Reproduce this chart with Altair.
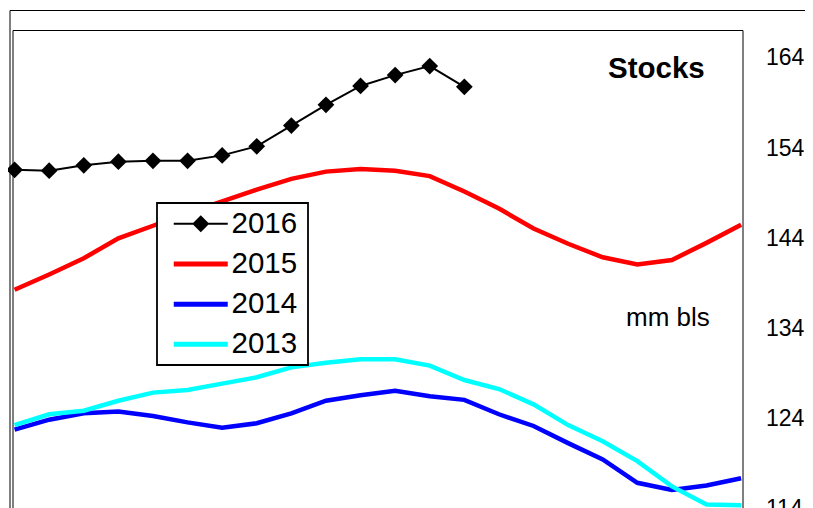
import altair as alt
import pandas as pd

# ---- data ----
years = ["2016", "2015", "2014", "2013"]
colors = ["#000000", "#FF0000", "#0000FF", "#00FFFF"]
y_ticks = [114, 124, 134, 144, 154, 164]

s2016 = [151.6, 151.5, 152.1, 152.5, 152.6, 152.6, 153.2, 154.2, 156.5, 158.8,
         160.9, 162.1, 163.1, 160.8]
s2015 = [138.3, 140.0, 141.8, 144.0, 145.4, 146.8, 148.1, 149.4, 150.6, 151.4,
         151.7, 151.5, 150.9, 149.2, 147.3, 145.1, 143.4, 141.9, 141.1, 141.6,
         143.5, 145.5]
s2014 = [122.8, 123.9, 124.6, 124.8, 124.3, 123.6, 123.0, 123.5, 124.6, 126.0,
         126.6, 127.1, 126.5, 126.1, 124.5, 123.2, 121.3, 119.5, 116.9, 116.1,
         116.6, 117.4]
s2013 = [123.3, 124.5, 124.9, 126.0, 126.9, 127.2, 127.9, 128.6, 129.7, 130.2,
         130.6, 130.6, 129.9, 128.3, 127.3, 125.6, 123.3, 121.5, 119.3, 116.5,
         114.5, 114.4]

series = {"2016": s2016, "2015": s2015, "2014": s2014, "2013": s2013}
rows = []
for yr, vals in series.items():
    for i, v in enumerate(vals):
        rows.append({"year": yr, "week": i, "value": v})
df = pd.DataFrame(rows)

FONT = "Liberation Sans"
W, H = 730, 488

x_enc = alt.X("week:Q", scale=alt.Scale(domain=[-0.06, 21.04], nice=False, zero=False), axis=None)
y_enc = alt.Y("value:Q",
              scale=alt.Scale(domain=[113, 167.1], nice=False, zero=False),
              axis=alt.Axis(orient="right", values=y_ticks, domain=False, ticks=False,
                            grid=False, labelPadding=23, labelFontSize=23, labelFont=FONT,
                            labelColor="black", title=None, labelOverlap=False,
                            labelBound=False, labelFlush=False))

color_scale = alt.Scale(domain=years, range=colors)

# legend symbols (filled paths): thin line + diamond for 2016, thick line for the rest
p2016 = "M-0.8,-0.2H10V0.2H-0.8ZM4.6,-1.7L6.3,0L4.6,1.7L2.9,0ZM24.8,0"
pline = "M-0.8,-0.5H10V0.5H-0.8ZM24.8,0"

legend = alt.Legend(
    orient="none", legendX=144.5, legendY=173, title=None,
    fillColor="white", strokeColor="black", padding=6,
    labelFont=FONT, labelFontSize=29.5, labelColor="black",
    symbolSize=100, labelOffset=39, rowPadding=9.2,
    symbolStrokeWidth=0, symbolOpacity=1,
)

color_enc = alt.Color("year:N", scale=color_scale, legend=legend)
base = alt.Chart(df).encode(x=x_enc, y=y_enc, color=color_enc)

def line_for(yr, sw):
    return base.transform_filter(alt.datum.year == yr).mark_line(strokeWidth=sw, clip=True)

pts2016 = base.transform_filter(alt.datum.year == "2016").mark_point(
    shape="diamond", size=280, filled=True, opacity=1, strokeWidth=0)

# legend-only layer (no rows pass the filter; the legend comes from the scale domains)
legend_layer = base.transform_filter(alt.datum.week < -100).mark_point(
    filled=True, size=100).encode(
    shape=alt.Shape("year:N", scale=alt.Scale(domain=years, range=[p2016, pline, pline, pline]),
                    legend=legend),
)

one = pd.DataFrame({"a": [0]})
frame_top = alt.Chart(one).mark_rule(color="black", strokeWidth=1).encode(
    x=alt.value(-2.5), x2=alt.value(792.5), y=alt.value(-19.5))
frame_left = alt.Chart(one).mark_rule(color="black", strokeWidth=1).encode(
    x=alt.value(-2.5), y=alt.value(-19.5), y2=alt.value(H + 20))

title_txt = alt.Chart(pd.DataFrame({"t": ["Stocks"]})).mark_text(
    font=FONT, fontSize=29.5, fontWeight="bold", align="left", baseline="alphabetic",
    color="black").encode(text="t:N", x=alt.value(595.5), y=alt.value(48))

unit_txt = alt.Chart(pd.DataFrame({"t": ["mm bls"]})).mark_text(
    font=FONT, fontSize=26, align="left", baseline="alphabetic",
    color="black").encode(text="t:N", x=alt.value(613.5), y=alt.value(296))

chart = alt.layer(
    frame_top,
    frame_left,
    line_for("2015", 4.5),
    line_for("2014", 4.5),
    line_for("2013", 4.5),
    line_for("2016", 2),
    pts2016,
    legend_layer,
    title_txt,
    unit_txt,
).properties(
    width=W, height=H,
    autosize=alt.AutoSizeParams(type="none"),
    padding={"left": 4.5, "top": 22, "right": 62.5, "bottom": 0},
    background="white",
).configure_view(stroke="black", strokeWidth=1).configure_legend(strokeWidth=1.8)

chart.save("out.html", embed_options={"renderer": "svg", "actions": False})
